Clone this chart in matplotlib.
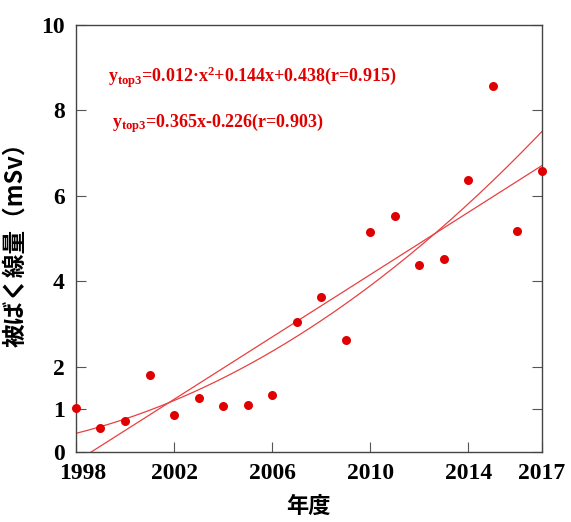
import numpy as np
import matplotlib
matplotlib.use('Agg')
import matplotlib.pyplot as plt
from matplotlib.transforms import ScaledTranslation

# annual dose values (mSv)
years = [1998, 1999, 2000, 2001, 2002, 2003, 2004, 2005, 2006, 2007,
         2008, 2009, 2010, 2011, 2012, 2013, 2014, 2015, 2016, 2017]
dose = [1.03, 0.56, 0.73, 1.80, 0.87, 1.26, 1.08, 1.10, 1.33, 3.04,
        3.63, 2.62, 5.15, 5.53, 4.38, 4.52, 6.37, 8.57, 5.18, 6.58]

# fit coefficients as printed on the chart (x = year - 1998)
quad_coef = [0.012, 0.144, 0.438]
lin_coef = [0.365, -0.226]

xticks = [1998, 2002, 2006, 2010, 2014, 2017]
yticks = [0, 1, 2, 4, 6, 8, 10]

red = '#e00000'
line_red = '#e84040'

plt.rcParams['font.family'] = ['Liberation Serif']
plt.rcParams['mathtext.fontset'] = 'custom'
plt.rcParams['mathtext.rm'] = 'Liberation Serif:bold'
plt.rcParams['mathtext.it'] = 'Liberation Serif:bold'
plt.rcParams['mathtext.bf'] = 'Liberation Serif:bold'

fig = plt.figure(figsize=(5.71, 5.22), dpi=100)
ax = fig.add_axes([0.133, 0.134, 0.816, 0.818])

xs = np.linspace(1998, 2017, 200)
t = xs - 1998
ax.plot(xs, np.polyval(quad_coef, t), color=line_red, lw=0.9)
ax.plot(xs, np.polyval(lin_coef, t), color=line_red, lw=0.9)
ax.scatter(years, dose, s=42, color=red, zorder=3, clip_on=False, linewidths=0)

ax.set_xlim(1998, 2017)
ax.set_ylim(0, 10)
ax.set_xticks(xticks)
ax.set_yticks(yticks)
ax.set_xticklabels([str(v) for v in xticks], fontsize=17, fontweight='bold')
ax.set_yticklabels([str(v) for v in yticks], fontsize=17, fontweight='bold')
ax.tick_params(axis='both', direction='in', length=7, width=0.8, color='#555555')
ax.tick_params(axis='y', right=True, pad=8)
ax.tick_params(axis='x', pad=8)
for s in ax.spines.values():
    s.set_color('#444444')
    s.set_linewidth(1.0)

# first year label sits a bit right of its tick, as in the original
lbl = ax.get_xticklabels()[0]
lbl.set_transform(lbl.get_transform() + ScaledTranslation(7 / 100, 0, fig.dpi_scale_trans))

ax.set_ylabel('被ばく線量（mSv）', family=['Noto Sans CJK JP', 'DejaVu Sans'],
              fontsize=17, fontweight='bold', labelpad=10)
ax.set_xlabel('年度', family=['Noto Sans CJK JP', 'DejaVu Sans'],
              fontsize=16, fontweight='bold', labelpad=8)

ax.text(0.068, 0.865, r'$y_{top3}$=0.012·x$^2$+0.144x+0.438(r=0.915)',
        transform=ax.transAxes, color=red, fontsize=13, fontweight='bold')
ax.text(0.077, 0.76, r'$y_{top3}$=0.365x-0.226(r=0.903)',
        transform=ax.transAxes, color=red, fontsize=13, fontweight='bold')

fig.savefig('out.png', dpi=100)
